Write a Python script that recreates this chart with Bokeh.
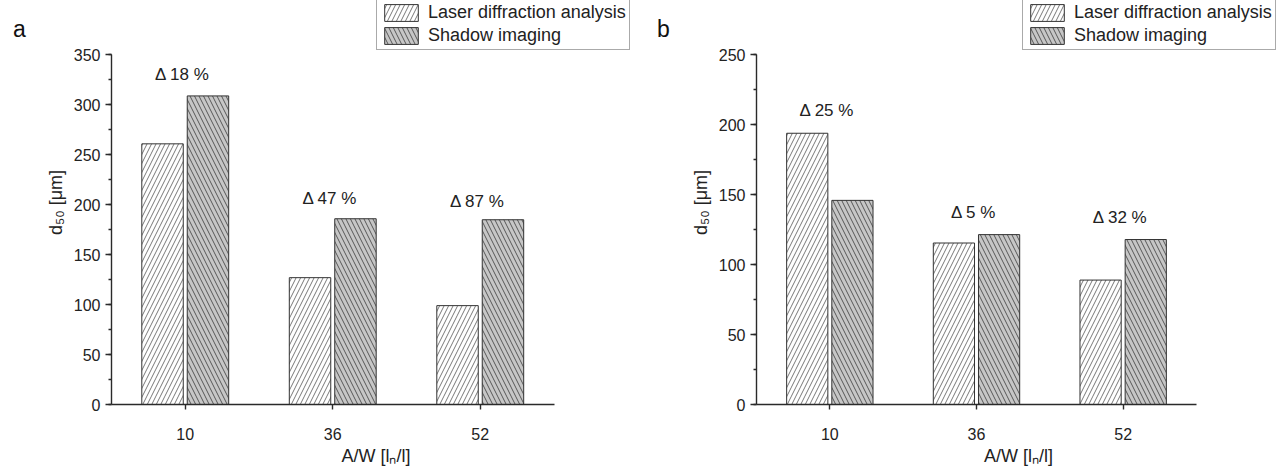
from bokeh.plotting import figure
from bokeh.models import (ColumnDataSource, Range1d, SingleIntervalTicker, FixedTicker,
                          Legend, LegendItem, Label)
from bokeh.transform import dodge
from bokeh.layouts import row
from bokeh.embed import file_html
from bokeh.resources import INLINE
from bokeh.core.properties import value

# ---------------- data ----------------
categories = ["10", "36", "52"]

laser_a = [261, 127, 99]
shadow_a = [309, 186, 185]
delta_a = ["Δ 18 %", "Δ 47 %", "Δ 87 %"]
delta_a_y = [330, 206, 203]

laser_b = [194, 115.5, 89]
shadow_b = [146, 121.5, 118]
delta_b = ["Δ 25 %", "Δ 5 %", "Δ 32 %"]
delta_b_y = [210, 137, 134]

series_names = ["Laser diffraction analysis", "Shadow imaging"]
x_label = "A/W [lₙ/l]"
y_label = "d₅₀ [μm]"
panel_letters = ["a", "b"]

FONT = "Liberation Sans"
TXT = "#222222"
H = 468

# category slots on a numeric axis (slot i centred at i + 0.5)
positions = [i + 0.5 for i in range(len(categories))]


def letter_fig(letter, w, lx):
    p = figure(width=w, height=H, output_backend="svg", toolbar_location=None,
               x_range=Range1d(0, w), y_range=Range1d(0, H),
               min_border_left=0, min_border_right=0, min_border_top=0,
               min_border_bottom=0)
    p.axis.visible = False
    p.grid.visible = False
    p.outline_line_color = None
    p.title.visible = False
    p.add_layout(Label(x=lx, y=H - 33, text=letter, text_font=FONT,
                       text_font_size="23px", text_color="#111111",
                       text_align="center", text_baseline="alphabetic"))
    return p


def make_panel(laser, shadow, dtext, dy, ymax, w, bl, px_per_slot, legend_x):
    src = ColumnDataSource(dict(x=positions, laser=laser, shadow=shadow))
    lsrc = ColumnDataSource(dict(x=positions, t=dtext, y=dy))
    frame_w = w - bl
    frame_h = H - 60
    ytop = ymax * frame_h / (frame_h - 55)          # leave room above the axis end
    p = figure(x_range=Range1d(0, frame_w / px_per_slot), y_range=Range1d(0, ytop),
               width=w, height=H, output_backend="svg", toolbar_location=None,
               min_border_left=bl, min_border_right=0, min_border_top=0,
               min_border_bottom=60)
    p.title.visible = False
    p.outline_line_color = None
    p.xgrid.visible = False
    p.ygrid.visible = False
    p.background_fill_color = "white"
    p.border_fill_color = "white"

    r1 = p.vbar(x=dodge("x", -0.154), top="laser", width=0.281,
                source=src, fill_color="white", line_color="#333333", line_width=1,
                hatch_pattern="right_diagonal_line", hatch_color="#555555",
                hatch_scale=9, hatch_weight=0.8)
    r2 = p.vbar(x=dodge("x", 0.154), top="shadow", width=0.281,
                source=src, fill_color="#c6c6c6", line_color="#333333", line_width=1,
                hatch_pattern="left_diagonal_line", hatch_color="#3a3a3a",
                hatch_scale=9, hatch_weight=0.8)

    p.text(x=dodge("x", -0.02), y="y", text="t", source=lsrc,
           text_align="center", text_baseline="middle", text_font=value(FONT),
           text_font_size="17px", text_color=TXT)

    for ax in (p.xaxis[0], p.yaxis[0]):
        ax.axis_line_color = "#2a2a2a"
        ax.axis_line_width = 1.4
        ax.major_tick_line_color = "#2a2a2a"
        ax.major_tick_line_width = 1.4
        ax.minor_tick_line_color = "#2a2a2a"
        ax.minor_tick_line_width = 1.3
        ax.major_tick_in = 0
        ax.minor_tick_in = 0
        ax.major_label_text_font = FONT
        ax.major_label_text_font_size = "16px"
        ax.major_label_text_color = TXT
        ax.axis_label_text_font = FONT
        ax.axis_label_text_font_size = "18px"
        ax.axis_label_text_font_style = "normal"
        ax.axis_label_text_color = TXT

    p.yaxis.ticker = SingleIntervalTicker(interval=50, num_minor_ticks=2)
    p.yaxis.bounds = (0, ymax)
    p.yaxis.major_tick_out = 6
    p.yaxis.minor_tick_out = 3
    p.yaxis.major_label_standoff = 5
    p.yaxis.axis_label = y_label
    p.yaxis.axis_label_standoff = 5

    p.xaxis.ticker = FixedTicker(ticks=positions, minor_ticks=[])
    p.xaxis.major_label_overrides = {pos: cat for pos, cat in zip(positions, categories)}
    p.xaxis.bounds = (0, len(categories))
    p.xaxis.major_tick_out = 5
    p.xaxis.minor_tick_out = 0
    p.xaxis.major_label_standoff = 18
    p.xaxis.axis_label = x_label
    p.xaxis.axis_label_standoff = 3

    legend = Legend(items=[LegendItem(label=series_names[0], renderers=[r1]),
                           LegendItem(label=series_names[1], renderers=[r2])],
                    location=(legend_x, frame_h - 54), margin=0, padding=3, spacing=2,
                    glyph_width=42, glyph_height=21, label_standoff=6,
                    label_height=21,
                    label_text_font=FONT, label_text_font_size="18px",
                    label_text_color=TXT, border_line_color="#555555",
                    border_line_width=1, background_fill_color="white",
                    background_fill_alpha=1)
    p.add_layout(legend, "center")
    return p


la = letter_fig(panel_letters[0], 40, 19)
pa = make_panel(laser_a, shadow_a, delta_a, delta_a_y, 350, 600, 71, 147.5, 265)
lb = letter_fig(panel_letters[1], 40, 23)
pb = make_panel(laser_b, shadow_b, delta_b, delta_b_y, 250, 600, 76, 146.67, 266)

layout = row(la, pa, lb, pb)
open("out.html", "w").write(file_html(layout, INLINE))
